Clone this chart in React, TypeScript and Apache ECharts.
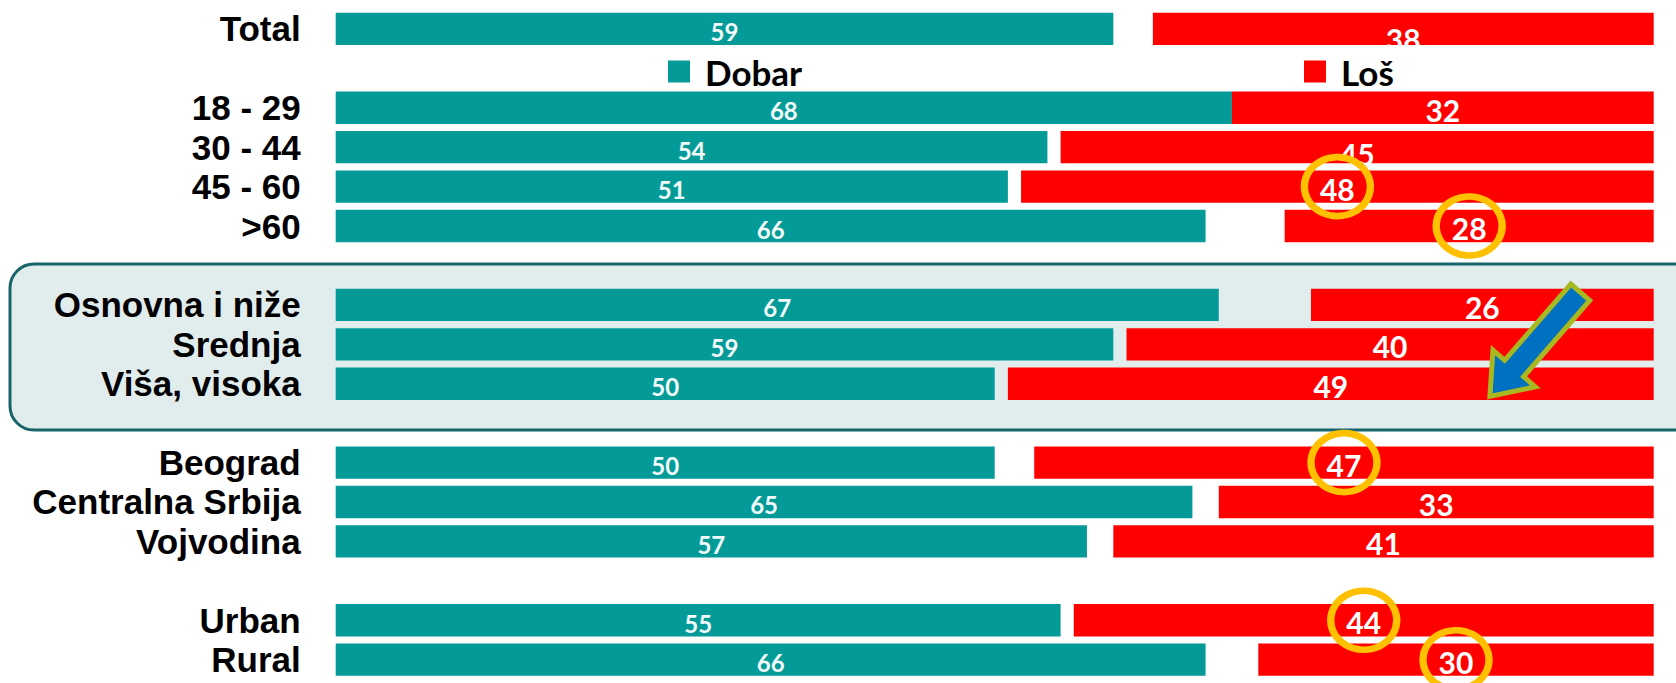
import React, { useEffect, useRef } from "react";
import * as echarts from "echarts";

const categories = [
  "Total", "", "18 - 29", "30 - 44", "45 - 60", ">60", "",
  "Osnovna i niže", "Srednja", "Viša, visoka", "",
  "Beograd", "Centralna Srbija", "Vojvodina", "", "Urban", "Rural",
];
const dobar = [59, null, 68, 54, 51, 66, null, 67, 59, 50, null, 50, 65, 57, null, 55, 66];
const los = [38, null, 32, 45, 48, 28, null, 26, 40, 49, null, 47, 33, 41, null, 44, 30];
const circled = ["45 - 60", ">60", "Beograd", "Urban", "Rural"];

const TEAL = "#039A98";
const RED = "#FF0000";
const FONT = "Lato";

// small label nudges copied from the original slide
const losLabelDrop: Record<string, number> = { Total: 8, "30 - 44": 5 };

export default function App() {
  const ref = useRef<HTMLDivElement>(null);
  useEffect(() => {
    if (!ref.current) return;
    const chart = echarts.init(ref.current, null, { renderer: "svg" });

    const gap = categories.map((c, i) =>
      dobar[i] == null || los[i] == null ? "-" : 100 - (dobar[i] as number) - (los[i] as number)
    );
    const dobarData = dobar.map((v) => (v == null ? "-" : v));
    const losData = los.map((v, i) =>
      v == null
        ? "-"
        : { value: v, label: { offset: [0, 2 + (losLabelDrop[categories[i]] || 0)] } }
    );
    const circleData = categories
      .map((c, i) => (circled.includes(c) ? [100 - (los[i] as number) / 2, i] : null))
      .filter((d) => d != null);

    // arrow geometry (local coords, pointing along +x)
    const L = 138, w = 12.5, h = 28, hl = 37;
    const arrowPts = [
      [0, -w], [L - hl, -w], [L - hl, -h], [L, 0], [L - hl, h], [L - hl, w], [0, w],
    ];
    const ang = Math.atan2(106, -92);

    const legendText = { fontFamily: FONT, fontWeight: "bold", fontSize: 35, color: "#000", padding: [0, 0, 0, 10] };

    chart.setOption({
      animation: false,
      grid: { left: 335.7, right: 22.3, top: 9.2, bottom: 3.6 },
      xAxis: { type: "value", min: 0, max: 100, show: false },
      yAxis: {
        type: "category",
        inverse: true,
        data: categories,
        axisLine: { show: false },
        axisTick: { show: false },
        splitLine: { show: false },
        axisLabel: {
          interval: 0,
          margin: 35,
          color: "#000",
          fontFamily: "Liberation Sans",
          fontWeight: "bold",
          fontSize: 35,
          lineHeight: 34,
        },
      },
      legend: [
        {
          data: ["Dobar"],
          left: 668,
          top: 54,
          padding: 0,
          itemWidth: 22,
          itemHeight: 22,
          icon: "rect",
          textStyle: legendText,
        },
        {
          data: ["Loš"],
          left: 1304,
          top: 54,
          padding: 0,
          itemWidth: 22,
          itemHeight: 22,
          icon: "rect",
          textStyle: legendText,
        },
      ],
      graphic: [
        {
          type: "rect",
          z: -10,
          shape: { x: 10, y: 264, width: 1700, height: 166, r: 24 },
          style: { fill: "#e1eded", stroke: "#17646A", lineWidth: 3 },
        },
        {
          type: "polygon",
          z: 100,
          x: 1580.3,
          y: 292.2,
          rotation: -ang,
          shape: { points: arrowPts },
          style: { fill: "#0070C0", stroke: "#A8B820", lineWidth: 5, lineJoin: "miter" },
        },
      ],
      series: [
        {
          name: "Dobar",
          type: "bar",
          stack: "s",
          barCategoryGap: "18%",
          data: dobarData,
          itemStyle: { color: TEAL },
          label: {
            show: true,
            position: "inside",
            color: "#F2FAFA",
            fontFamily: FONT,
            fontWeight: "bold",
            fontSize: 24,
            offset: [0, 3],
          },
        },
        {
          name: "gap",
          type: "bar",
          stack: "s",
          data: gap,
          silent: true,
          itemStyle: { color: "rgba(0,0,0,0)" },
          label: { show: false },
        },
        {
          name: "Loš",
          type: "bar",
          stack: "s",
          data: losData,
          itemStyle: { color: RED },
          label: {
            show: true,
            position: "inside",
            color: "#fff",
            fontFamily: FONT,
            fontWeight: "bold",
            fontSize: 30,
          },
        },
        {
          name: "circles",
          type: "scatter",
          z: 20,
          silent: true,
          data: circleData,
          symbol: "circle",
          symbolSize: [66, 59],
          itemStyle: { color: "rgba(0,0,0,0)", borderColor: "#FFC000", borderWidth: 7, opacity: 1 },
        },
      ],
    });
    return () => chart.dispose();
  }, []);
  return (
    <div
      ref={ref}
      style={{ position: "absolute", left: 0, top: 0, width: 1676, height: 683, background: "#fff" }}
    />
  );
}
